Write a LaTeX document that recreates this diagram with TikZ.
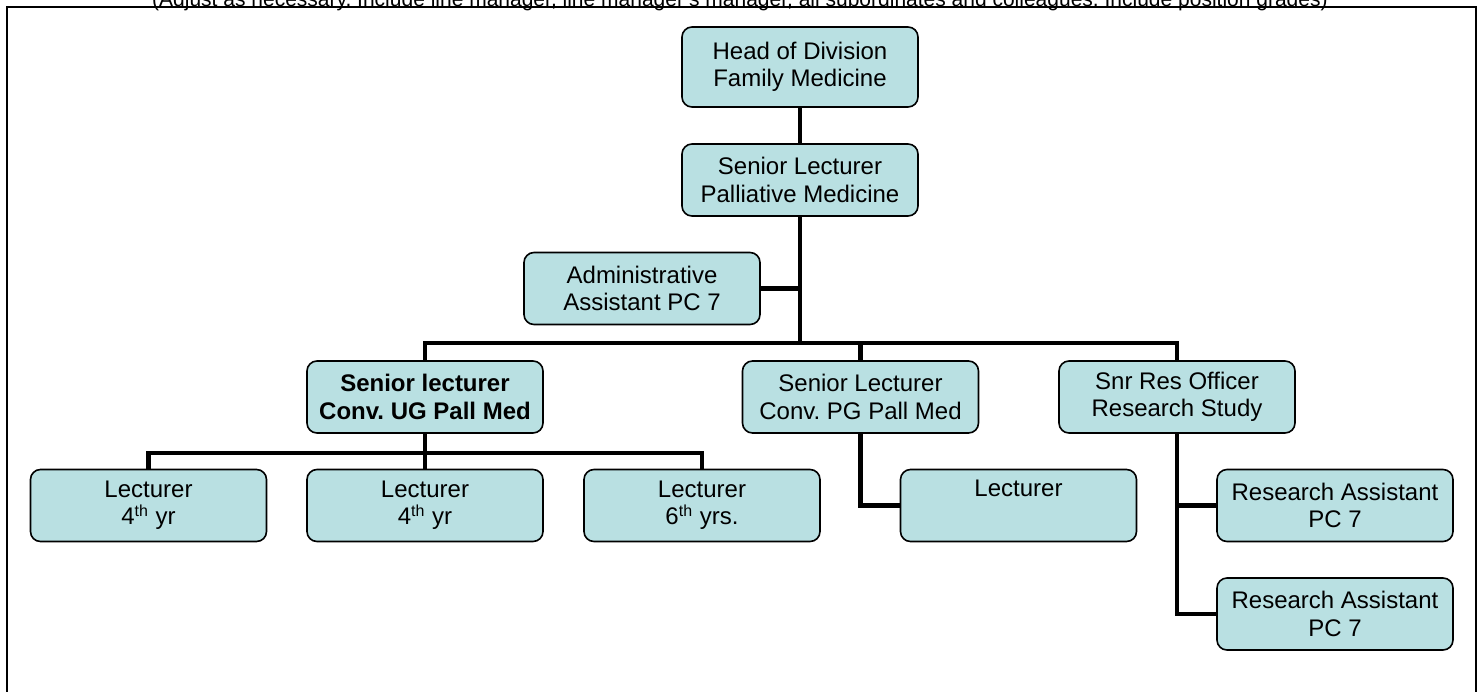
\documentclass[tikz,border=0pt]{standalone}
\usepackage{fontspec}
\setmainfont{Liberation Sans}
\usetikzlibrary{positioning}
\definecolor{boxfill}{RGB}{185,224,226}
\frenchspacing

\begin{document}
\begin{tikzpicture}[x=0.5pt,y=-0.5pt,
	post/.style={draw,rounded corners=5pt,fill=boxfill,line width=0.8pt,align=center,
		minimum width=118pt,minimum height=36pt,inner sep=2pt,
		font=\fontsize{12}{13.6}\selectfont},
	link/.style={line width=2.4pt}]
	\useasboundingbox (0,0) rectangle (1483,691);
	% frame and the note above it
	\node[anchor=base,font=\fontsize{10.5}{12}\selectfont] (note) at (740,6)
		{(Adjust as necessary. Include line manager, line manager's manager, all subordinates and colleagues. Include position grades)};
	\draw[line width=1.3pt] (7,720) |- (1476,7) -- (1476,720);
	% posts
	\node[post,minimum height=40pt] (head) at (800,67) {Head of Division\\Family Medicine};
	\node[post] (sl) at (800,180) {Senior Lecturer\\Palliative Medicine};
	\node[post] (admin) at (642,288.5) {Administrative\\Assistant PC 7};
	\node[post,font=\fontsize{12}{13.6}\selectfont\bfseries] (ug) at (425,397) {Senior lecturer\\Conv. UG Pall Med};
	\node[post] (pg) at (860.5,397) {Senior Lecturer\\Conv. PG Pall Med};
	\node[post] (snr) at (1177,397) {Snr Res Officer\\Research Study};
	\node[post] (lec1) at (148.5,505.5) {Lecturer\\4\textsuperscript{th} yr};
	\node[post] (lec2) at (425,505.5) {Lecturer\\4\textsuperscript{th} yr};
	\node[post] (lec3) at (702,505.5) {Lecturer\\6\textsuperscript{th} yrs.};
	\node[post] (lec4) at (1018.5,505.5) {Lecturer\\\strut};
	\node[post] (ra1) at (1335,505.5) {Research Assistant\\PC 7};
	\node[post] (ra2) at (1335,614) {Research Assistant\\PC 7};
	% lines
	\coordinate (bus) at (800,343);
	\coordinate (bus2) at (425,453);
	\draw[link] (head) -- (sl);
	\draw[link] (sl) -- (bus);
	\draw[link] (admin) -- (admin -| sl);
	\draw[link] (ug) |- (bus) -| (snr);
	\draw[link] (pg) -- (pg |- bus);
	\draw[link] (ug) -- (bus2);
	\draw[link] (lec1) |- (bus2) -| (lec3);
	\draw[link] (lec2) -- (bus2);
	\draw[link] (pg) |- (lec4);
	\draw[link] (snr) |- (ra1);
	\draw[link] (snr) |- (ra2);
\end{tikzpicture}
\end{document}
